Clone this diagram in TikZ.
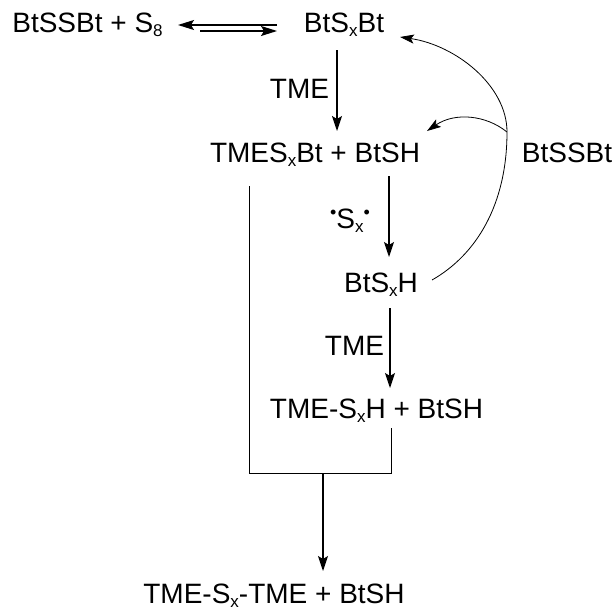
\documentclass[tikz,border=0pt]{standalone}
\usepackage{fontspec}
\setmainfont{Liberation Sans}
\usetikzlibrary{arrows.meta}
\newcommand\lowsub[1]{\raisebox{-4pt}{\fontsize{17}{17}\selectfont #1}}
\newcommand\raddot{\raisebox{10pt}{\fontsize{18}{18}\selectfont •}}
\begin{document}
\begin{tikzpicture}[x=1pt,y=-1pt,
  lbl/.style={inner sep=0pt, anchor=base, font=\fontsize{28}{32}\selectfont},
  arr/.style={line width=1.2pt, -{Stealth[length=15pt,width=10pt,inset=3pt]}},
  eqarr/.style={line width=1.3pt, -{Stealth[length=16pt,width=10pt,inset=3pt]}},
  thinline/.style={line width=0.9pt},
  carr/.style={line width=0.8pt, -{Stealth[length=14pt,width=9pt,inset=3pt]}},
]
\useasboundingbox (0,0) rectangle (616,611);
% labels
\node[lbl] (r1) at (87.5,32) {BtSSBt + S\lowsub{8}};
\node[lbl] (r2) at (344,32) {BtS\lowsub{x}Bt};
\node[lbl] (m1) at (315,162) {TMES\lowsub{x}Bt + BtSH};
\node[lbl] (bss) at (567,162) {BtSSBt};
\node[lbl] (m2) at (381,292) {BtS\lowsub{x}H};
\node[lbl] (m3) at (376.5,418) {TME-S\lowsub{x}H + BtSH};
\node[lbl] (fin) at (274,603) {TME-S\lowsub{x}-TME + BtSH};
\node[lbl] (tme1) at (299.5,98) {TME};
\node[lbl] (sx) at (350,228) {\raddot S\lowsub{x}\raddot};
\node[lbl] (tme2) at (354.5,355) {TME};
% connector end points
\coordinate (e1l) at (178,25);
\coordinate (e1r) at (277,25);
\coordinate (e2l) at (200,31);
\coordinate (e2r) at (277,31);
\coordinate (a1s) at (337,50);
\coordinate (a1e) at (337,131);
\coordinate (a2s) at (389,176);
\coordinate (a2e) at (389,257);
\coordinate (a3s) at (390,308);
\coordinate (a3e) at (390,388);
\coordinate (l1) at (249,186);
\coordinate (l2) at (249,473);
\coordinate (r3) at (391,428);
\coordinate (r4) at (391,473);
\coordinate (a4s) at (323,473);
\coordinate (a4e) at (323,571);
\coordinate (cs) at (432,280);
\coordinate (j) at (507,132);
\coordinate (ce1) at (400,37);
\coordinate (ce2) at (427,131);
% equilibrium
\draw[eqarr] (e1r) -- (e1l);
\draw[eqarr] (e2l) -- (e2r);
% straight arrows
\draw[arr] (a1s) -- (a1e);
\draw[arr] (a2s) -- (a2e);
\draw[arr] (a3s) -- (a3e);
\draw[thinline] (l1) -- (l2) -- (r4) -- (r3);
\draw[arr] (a4s) -- (a4e);
% curved arrows
\draw[carr] (cs) .. controls (476,255) and (507,205) .. (j)
            .. controls (507,85) and (455,45) .. (ce1);
\draw[carr] (j) .. controls (486,115) and (455,112) .. (ce2);
\end{tikzpicture}
\end{document}
